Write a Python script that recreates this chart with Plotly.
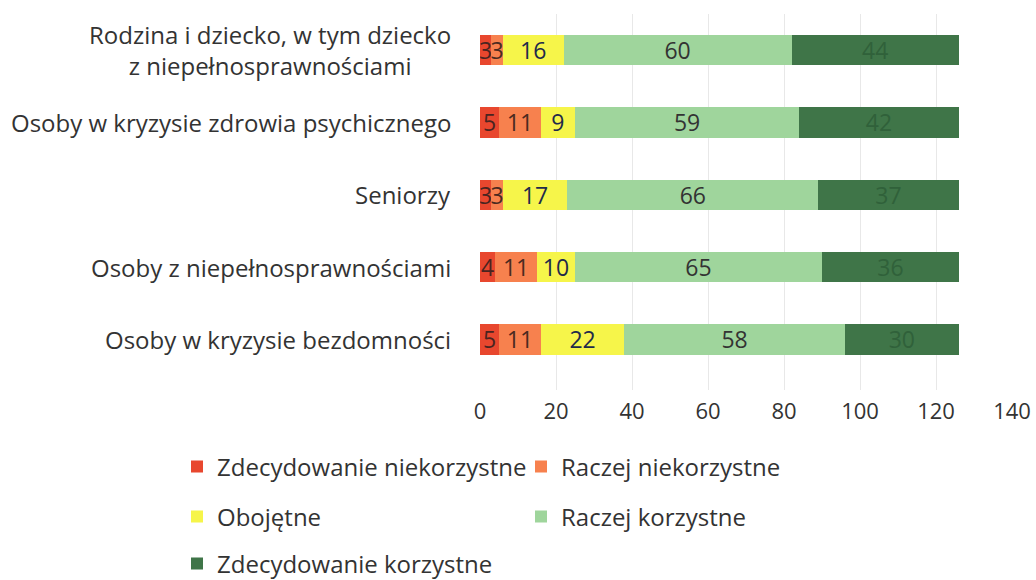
import plotly.graph_objects as go

categories = [
    "Osoby w kryzysie bezdomności",
    "Osoby z niepełnosprawnościami",
    "Seniorzy",
    "Osoby w kryzysie zdrowia psychicznego",
    "Rodzina i dziecko, w tym dziecko<br>z niepełnosprawnościami",
]
zdec_niekorzystne = [5, 4, 3, 5, 3]
raczej_niekorzystne = [11, 11, 3, 11, 3]
obojetne = [22, 10, 17, 9, 16]
raczej_korzystne = [58, 65, 66, 59, 60]
zdec_korzystne = [30, 36, 37, 42, 44]

series_names = ["Zdecydowanie niekorzystne", "Raczej niekorzystne", "Obojętne",
                "Raczej korzystne", "Zdecydowanie korzystne"]
series_values = [zdec_niekorzystne, raczej_niekorzystne, obojetne,
                 raczej_korzystne, zdec_korzystne]
colors = ["#e8472e", "#f7814e", "#f6f54a", "#9fd59c", "#3f7548"]
text_colors = ["#4a2420", "#4a2a20", "#1f2a4a", "#333333", "#30613a"]
legend_ids = ["legend", "legend2", "legend3", "legend4", "legend5"]
# legend placement in pixels (x of legend box left, y of row centre)
legend_px = [(177, 467), (521, 467), (177, 517), (521, 517), (177, 564)]

FONT = "Open Sans"
W, H = 1036, 580
fig = go.Figure()
for name, vals, color, tcol, lg in zip(series_names, series_values, colors,
                                       text_colors, legend_ids):
    fig.add_trace(go.Bar(
        y=categories, x=vals, name=name, orientation="h",
        marker=dict(color=color, line=dict(width=0)),
        text=[str(v) for v in vals], textposition="inside",
        insidetextanchor="middle", textangle=0,
        textfont=dict(family=FONT, size=23, color=tcol),
        width=0.42, legend=lg,
    ))

L, R = 480, 1012
for c in categories:
    fig.add_annotation(
        xref="paper", x=(453 - L) / (R - L), y=c, yref="y",
        text=c, showarrow=False, xanchor="right", align="center",
        font=dict(family=FONT, size=24, color="#333333"),
    )

layout_legends = {}
for lg, (px, py) in zip(legend_ids, legend_px):
    layout_legends[lg] = dict(
        orientation="h", xref="container", yref="container",
        xanchor="left", yanchor="middle", x=px / W, y=1 - py / H,
        font=dict(family=FONT, size=24, color="#333333"),
        bgcolor="rgba(0,0,0,0)")

fig.update_layout(
    width=W, height=H,
    barmode="stack",
    paper_bgcolor="white", plot_bgcolor="white",
    margin=dict(l=L, r=W - R, t=14, b=190, autoexpand=False),
    showlegend=True,
    uniformtext=dict(minsize=23, mode="show"),
    xaxis=dict(range=[0, 140], dtick=20, showgrid=True, gridcolor="#e8e8e8",
               zeroline=False, showline=False, ticks="", automargin=False,
               ticklabelstandoff=6,
               tickfont=dict(family=FONT, size=22, color="#333333")),
    yaxis=dict(range=[-0.7, 4.5], showticklabels=False, showgrid=False,
               zeroline=False, showline=False, ticks="", automargin=False),
    **layout_legends,
)

fig.write_html("out.html", config={"displayModeBar": False},
               post_script="document.body.style.margin='0';document.body.style.overflow='hidden';")
